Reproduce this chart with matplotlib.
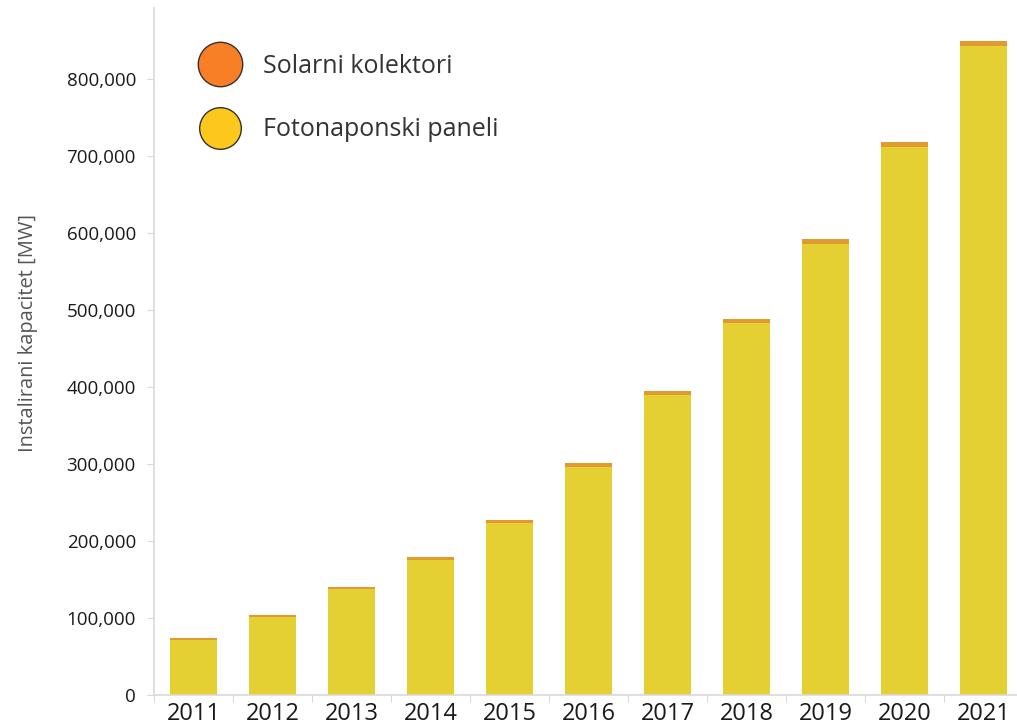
import matplotlib
matplotlib.use("Agg")
import matplotlib.pyplot as plt
from matplotlib.lines import Line2D
from matplotlib.ticker import FuncFormatter, FixedLocator

plt.rcParams["font.family"] = ["Open Sans", "DejaVu Sans"]

years = ["2011", "2012", "2013", "2014", "2015", "2016",
         "2017", "2018", "2019", "2020", "2021"]
fotonaponski = [72000, 101000, 137000, 175000, 223000, 296000,
                390000, 483000, 586000, 711000, 843000]
kolektori = [1600, 2500, 3400, 4400, 4700, 4900,
             5100, 5700, 6200, 6400, 6400]

fig = plt.figure(figsize=(10.17, 7.27), dpi=100)
ax = fig.add_axes([0.1514, 0.044, 0.8545, 0.945])

x = range(len(years))
ax.bar(x, fotonaponski, width=0.6, color="#E4D033", edgecolor="none")
ax.bar(x, kolektori, width=0.6, bottom=fotonaponski, color="#E09A30", edgecolor="none")

ax.set_xlim(-0.5, len(years) - 0.5)
ax.set_ylim(0, 892000)

ax.set_xticks(list(x))
ax.set_xticklabels(years, fontsize=17, color="#1a1a1a")
ax.xaxis.set_minor_locator(FixedLocator([i - 0.5 for i in range(len(years) + 1)]))
ax.tick_params(axis="x", which="major", length=0, pad=5)
ax.tick_params(axis="x", which="minor", length=5, color="#d0d0d0")

ax.set_yticks(range(0, 900000, 100000))
ax.yaxis.set_major_formatter(FuncFormatter(lambda v, p: f"{int(v):,}"))
ax.tick_params(axis="y", length=5, color="#d9d9d9", labelsize=13.5, labelcolor="#1a1a1a", pad=8)

for s in ["top", "right"]:
    ax.spines[s].set_visible(False)
for s in ["left", "bottom"]:
    ax.spines[s].set_color("#d9d9d9")
    ax.spines[s].set_linewidth(1.2)

ax.set_ylabel("Instalirani kapacitet [MW]", fontsize=14.4, color="#555555")
ax.yaxis.set_label_coords(-0.134, 0.527)

handles = [
    Line2D([], [], marker="o", linestyle="none", markersize=32,
           markerfacecolor="#F97F26", markeredgecolor="#333333", markeredgewidth=1),
    Line2D([], [], marker="o", linestyle="none", markersize=30,
           markerfacecolor="#FDC81C", markeredgecolor="#333333", markeredgewidth=1),
]
ax.legend(handles, ["Solarni kolektori", "Fotonaponski paneli"],
          loc="upper left", bbox_to_anchor=(0.0357, 0.948), frameon=False,
          fontsize=18, labelcolor="#333333", labelspacing=1.55,
          handletextpad=0.72, borderaxespad=0)

fig.savefig("out.png", dpi=100)
